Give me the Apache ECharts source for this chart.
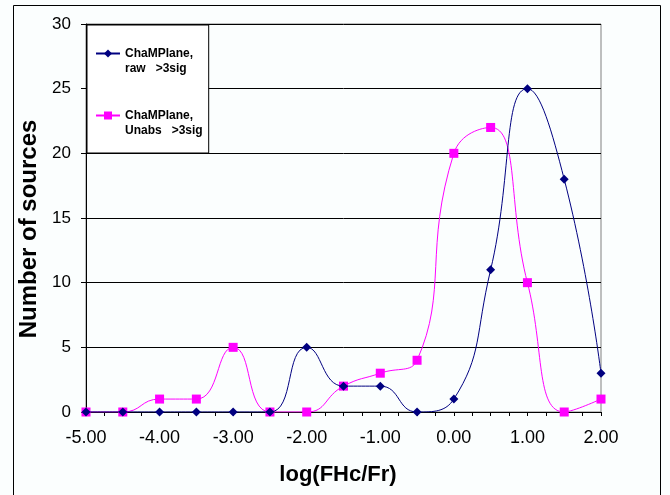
<!DOCTYPE html>
<html>
<head>
<meta charset="utf-8">
<script src="https://cdn.jsdelivr.net/npm/echarts@6/dist/echarts.min.js"></script>
<style>
html,body{margin:0;padding:0;background:#fbfefe;}
#c{width:670px;height:495px;}
</style>
</head>
<body>
<div id="c"></div>
<script>
const xValues = [-5.0, -4.5, -4.0, -3.5, -3.0, -2.5, -2.0, -1.5, -1.0, -0.5, 0.0, 0.5, 1.0, 1.5, 2.0];
const rawCounts = [0, 0, 0, 0, 0, 0, 5, 2, 2, 0, 1, 11, 25, 18, 3];
const unabsCounts = [0, 0, 1, 1, 5, 0, 0, 2, 3, 4, 20, 22, 10, 0, 1];
const rawName = 'ChaMPlane,\nraw   >3sig';
const unabsName = 'ChaMPlane,\nUnabs   >3sig';
const xTitle = 'log(FHc/Fr)';
const yTitle = 'Number of sources';

const pairs = (ys) => xValues.map((x, i) => [x, ys[i]]);

const chart = echarts.init(document.getElementById('c'), null, {renderer: 'canvas'});
const font = 'Liberation Sans, Arial, sans-serif';
chart.setOption({
  backgroundColor: '#fbfefe',
  animation: false,
  textStyle: {fontFamily: font},
  graphic: [{
    type: 'rect', shape: {x: 13.5, y: 5.5, width: 647, height: 500},
    style: {fill: 'none', stroke: '#000', lineWidth: 1}, silent: true, z: -1
  }],
  grid: {left: 86, top: 24, width: 515, height: 388, show: true, borderColor: '#808080', borderWidth: 1, backgroundColor: 'transparent'},
  legend: {
    orient: 'vertical', left: 87, top: 25,
    padding: [6, 6, 15, 8], itemGap: 17,
    itemWidth: 24, itemHeight: 10,
    backgroundColor: '#fff', borderColor: '#000', borderWidth: 1,
    formatter: (name) => '\n' + name,
    textStyle: {fontFamily: font, fontWeight: 'bold', fontSize: 12, lineHeight: 15, color: '#000'},
    data: [rawName, unabsName]
  },
  xAxis: {
    type: 'value', min: -5, max: 2, interval: 1,
    name: xTitle, nameLocation: 'middle', nameGap: 52,
    nameTextStyle: {fontFamily: font, fontWeight: 'bold', fontSize: 22, color: '#000', padding: [0, 11, 0, 0]},
    axisLine: {lineStyle: {color: '#000', width: 1}},
    axisTick: {show: true, length: 4, lineStyle: {color: '#000'}},
    minorTick: {show: true, splitNumber: 4, length: 4, lineStyle: {color: '#000', width: 1}},
    splitLine: {show: false},
    axisLabel: {fontFamily: font, fontSize: 18, color: '#000', margin: 17, formatter: (v) => v.toFixed(2)}
  },
  yAxis: {
    type: 'value', min: 0, max: 30, interval: 5,
    name: yTitle, nameLocation: 'middle', nameGap: 41,
    nameTextStyle: {fontFamily: font, fontWeight: 'bold', fontSize: 24, color: '#000', padding: [0, 22, 0, 0]},
    axisLine: {show: true, onZero: false, lineStyle: {color: '#000', width: 1}},
    axisTick: {show: true, length: 5, lineStyle: {color: '#000'}},
    splitLine: {show: true, lineStyle: {color: '#000', width: 1}},
    axisLabel: {fontFamily: font, fontSize: 17, color: '#000', margin: 15}
  },
  series: [
    {
      name: rawName, type: 'line', data: pairs(rawCounts), smooth: 0.5,
      symbol: 'diamond', symbolSize: 9,
      lineStyle: {color: '#000080', width: 1},
      itemStyle: {color: '#000080'}, z: 3
    },
    {
      name: unabsName, type: 'line', data: pairs(unabsCounts), smooth: 0.5,
      symbol: 'rect', symbolSize: 9,
      lineStyle: {color: '#ff00ff', width: 1},
      itemStyle: {color: '#ff00ff'}, z: 2
    }
  ]
});
</script>
</body>
</html>
